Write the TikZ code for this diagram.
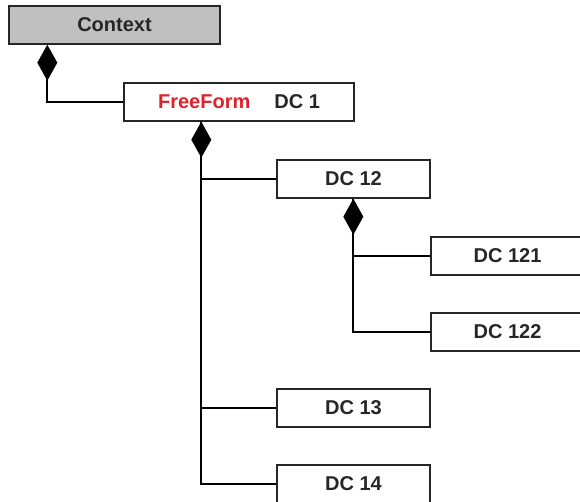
\documentclass[tikz,border=0pt]{standalone}
\usepackage{fontspec}
\setmainfont{Liberation Sans}
\usetikzlibrary{arrows.meta}
\definecolor{ctxgray}{HTML}{C0C0C0}
\definecolor{ffred}{HTML}{E0202A}
\begin{document}
\begin{tikzpicture}[x=1pt,y=-1pt,
  box/.style={draw=black!85, line width=1.4pt, fill=white, minimum height=38pt, inner sep=0pt,
    font=\fontsize{20}{24}\selectfont\bfseries, text=black!85},
  comp/.style={draw=black, line width=2pt, {Diamond[length=36pt,width=20pt]}-},
  plain/.style={draw=black, line width=2pt}]
\useasboundingbox (0,0) rectangle (580,502);
\clip (0,0) rectangle (580,502);
\node[box, fill=ctxgray, minimum width=211pt] (ctx) at (114.5,25) {Context};
\node[box, minimum width=230pt] (ff) at (239,102) {\textcolor{ffred}{FreeForm}\hspace{24pt}DC 1};
\node[box, minimum width=153pt] (dc12) at (353.5,179) {DC 12};
\node[box, minimum width=153pt] (dc121) at (507.5,256) {DC 121};
\node[box, minimum width=153pt] (dc122) at (507.5,332) {DC 122};
\node[box, minimum width=153pt] (dc13) at (353.5,408) {DC 13};
\node[box, minimum width=153pt] (dc14) at (353.5,484) {DC 14};
\draw[comp] ([xshift=39pt]ctx.south west) |- (ff.west);
\draw[comp] ([xshift=78pt]ff.south west) |- (dc14.west);
\draw[plain] ([xshift=78pt]ff.south west) |- (dc12.west);
\draw[plain] ([xshift=78pt]ff.south west) |- (dc13.west);
\draw[comp] ([xshift=77pt]dc12.south west) |- (dc122.west);
\draw[plain] ([xshift=77pt]dc12.south west) |- (dc121.west);
\end{tikzpicture}
\end{document}
